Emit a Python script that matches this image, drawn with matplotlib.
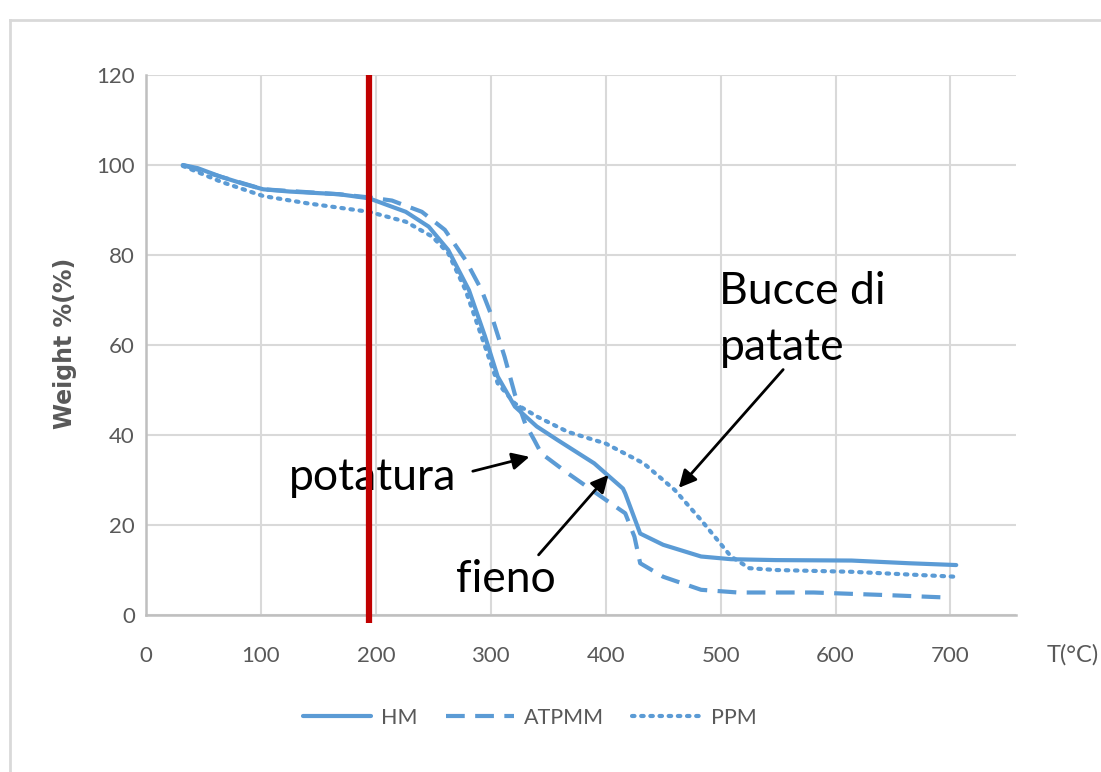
import matplotlib.pyplot as plt
from matplotlib.lines import Line2D

# TGA curves
hm_t = [32, 45, 65, 85, 102, 125, 168, 194, 226, 246, 263, 281, 295, 306, 321, 340,
        358, 390, 415, 417, 430, 450, 483, 509, 548, 614, 664, 705]
hm_w = [100, 99.3, 97.4, 95.8, 94.6, 94.1, 93.5, 92.6, 89.6, 86.3, 81.1, 72.2, 61.9, 53,
        46.3, 41.9, 38.9, 33.7, 28.1, 27, 18.1, 15.6, 13, 12.4, 12.2, 12.1, 11.5, 11.1]

atp_t = [32, 65, 102, 168, 194, 214, 240, 260, 278, 292, 301, 312, 321, 330, 338, 344,
         367, 400, 417, 425, 430, 450, 483, 515, 581, 647, 695]
atp_w = [100, 97.4, 94.6, 93.5, 92.8, 92.1, 89.6, 85.6, 78.9, 72.2, 66.3, 57.4, 49, 42.5,
         38.8, 35.9, 31.5, 25.6, 22.6, 17.4, 11.5, 8.5, 5.6, 5.0, 5.0, 4.4, 3.9]

ppm_t = [32, 65, 102, 140, 194, 226, 249, 263, 278, 292, 306, 321, 341, 367, 400, 433,
         460, 483, 509, 525, 548, 614, 705]
ppm_w = [99.8, 96.3, 93.1, 91.5, 89.6, 87.4, 84.1, 80.4, 72.2, 61.9, 51.5, 47, 44, 40.7,
         38.1, 33.7, 27.8, 21.1, 13, 10.4, 10, 9.6, 8.5]

x_ticks = [0, 100, 200, 300, 400, 500, 600, 700]
y_ticks = [0, 20, 40, 60, 80, 100, 120]
cutoff_t = 194

blue = '#5B9BD5'
grey = '#595959'
tick_font = ['Lato', 'DejaVu Sans']
note_font = ['Lato', 'DejaVu Sans']

fig = plt.figure(figsize=(11.01, 7.72), dpi=100)
W, H = 1101, 772
ax = fig.add_axes([146 / W, 1 - 615 / H, 870 / W, 540 / H])

ax.plot(hm_t, hm_w, color=blue, lw=3, solid_capstyle='round', label='HM')
ax.plot(atp_t, atp_w, color=blue, lw=3, dashes=(4.5, 2.5), label='ATPMM')
ax.plot(ppm_t, ppm_w, color=blue, lw=3, dashes=(0.6, 1.6), dash_capstyle='round', label='PPM')

ax.axvline(cutoff_t, ymin=-0.015, ymax=1.0, color='#C00000', lw=4.5, clip_on=False, zorder=5,
           solid_capstyle='butt')

ax.set_xlim(0, 757)
ax.set_ylim(0, 120)
ax.set_xticks(x_ticks)
ax.set_yticks(y_ticks)
ax.grid(True, color='#d9d9d9', lw=1.5)
ax.set_axisbelow(True)
for s in ['top', 'right']:
    ax.spines[s].set_visible(False)
for s in ['left', 'bottom']:
    ax.spines[s].set_color('#bfbfbf')
    ax.spines[s].set_linewidth(1.8)
ax.tick_params(length=0, labelsize=16, labelcolor=grey)
ax.tick_params(axis='y', pad=8)
ax.tick_params(axis='x', pad=22)
for lab in ax.get_xticklabels() + ax.get_yticklabels():
    lab.set_family(tick_font)

fig.text(65 / W, 1 - 343 / H, 'Weight %(%)', fontsize=17, color=grey, fontweight='bold',
         family='DejaVu Sans', rotation=90, ha='center', va='center')
fig.text(1073 / W, 1 - 655 / H, 'T(°C)', fontsize=17, color=grey, family=tick_font,
         ha='center', va='center')

# annotations
ax.annotate('', xy=(336, 35.3), xytext=(282, 31.8),
            arrowprops=dict(arrowstyle='-|>', color='black', lw=2, mutation_scale=26))
ax.annotate('', xy=(404, 31.6), xytext=(340, 12.9),
            arrowprops=dict(arrowstyle='-|>', color='black', lw=2, mutation_scale=26))
ax.annotate('', xy=(462, 27.8), xytext=(556, 55),
            arrowprops=dict(arrowstyle='-|>', color='black', lw=2, mutation_scale=26))
ax.text(197, 30.6, 'potatura', fontsize=32, family=note_font, ha='center', va='center')
ax.text(313, 8.0, 'fieno', fontsize=32, family=note_font, ha='center', va='center')
ax.text(499, 76.4, 'Bucce di\npatate', fontsize=32, family=note_font, ha='left', va='top',
        linespacing=1.45)

leg = fig.legend(handles=ax.get_lines()[:3], loc='center', bbox_to_anchor=(0.481, 1 - 718 / H),
                 ncol=3, frameon=False, fontsize=15.5, handlelength=3.2, columnspacing=1.3,
                 handletextpad=0.45)
for t in leg.get_texts():
    t.set_color(grey)
    t.set_family(tick_font)

# outer chart frame (left and top edges only visible)
fig.add_artist(Line2D([10 / W, 10 / W], [0, 1 - 20 / H], color='#d9d9d9', lw=2))
fig.add_artist(Line2D([10 / W, 1], [1 - 20 / H, 1 - 20 / H], color='#d9d9d9', lw=2))

fig.savefig('out.png', dpi=100)
